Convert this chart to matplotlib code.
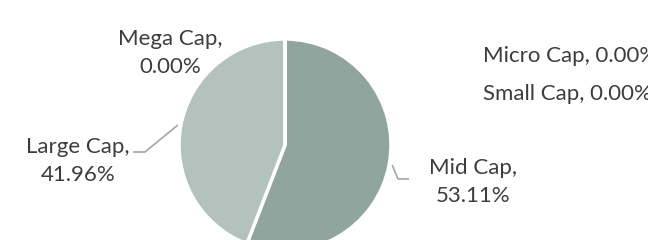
import matplotlib
matplotlib.use("Agg")
import matplotlib.pyplot as plt
import numpy as np

# market cap breakdown (percent)
labels = ["Micro Cap", "Small Cap", "Mid Cap", "Large Cap", "Mega Cap"]
values = [0.00, 0.00, 53.11, 41.96, 0.00]
colors = ["#8fa59e", "#8fa59e", "#8fa59e", "#b3c2bc", "#b3c2bc"]

plt.rcParams['font.family'] = ['Lato', 'DejaVu Sans']
txt_color = "#3d3d3d"
fs = 16

fig = plt.figure(figsize=(6.48, 2.4), dpi=100)
ax = fig.add_axes([0, 0, 1, 1])

# pie in pixel space, y up
cx, cy, r = 285, 95, 106
wedges, _ = ax.pie(values, colors=colors, startangle=90, counterclock=False,
                   radius=r, center=(cx, cy), normalize=True,
                   wedgeprops=dict(edgecolor="white", linewidth=2.5))
ax.set_xlim(0, 648)
ax.set_ylim(0, 240)
ax.set_aspect("equal")
ax.axis("off")

# label layout: (text x, text y, ha, elbow, line end)
layout = {
    "Micro Cap": (483, 184, "left", None, None),
    "Small Cap": (483, 146, "left", None, None),
    "Mega Cap": (170, 187, "center", None, None),
    "Large Cap": (78, 79, "center", (145, 88), (133, 88)),
    "Mid Cap": (473, 58, "center", (398, 61), (409, 61)),
}

for w, lab, v in zip(wedges, labels, values):
    tx, ty, ha, elbow, end = layout[lab]
    if ha == "left":
        ax.text(tx, ty, f"{lab}, {v:.2f}%", ha="left", va="center",
                fontsize=fs, color=txt_color)
    else:
        ax.text(tx, ty, f"{lab},\n{v:.2f}%", ha="center", va="center",
                fontsize=fs, color=txt_color, linespacing=1.45)
    if elbow is not None:
        a = np.deg2rad((w.theta1 + w.theta2) / 2)
        sx = cx + (r + 3) * np.cos(a)
        sy = cy + (r + 3) * np.sin(a)
        ax.plot([sx, elbow[0], end[0]], [sy, elbow[1], end[1]],
                color="#a6a6a6", lw=1.2, solid_capstyle="butt")

fig.savefig("out.png", dpi=100)
